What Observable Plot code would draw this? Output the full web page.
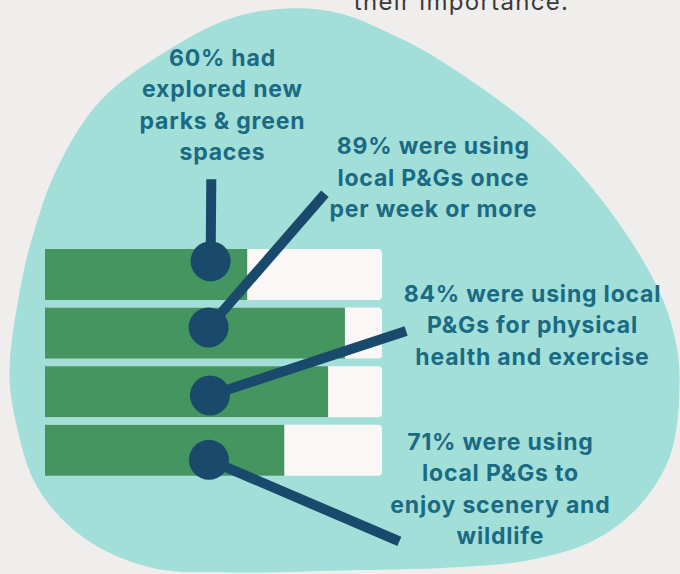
<!DOCTYPE html>
<html>
<head>
<meta charset="utf-8">
<script src="https://cdn.jsdelivr.net/npm/d3@7"></script>
<script src="https://cdn.jsdelivr.net/npm/@observablehq/plot@0.6"></script>
<style>
  html, body { margin: 0; padding: 0; background: #efeeec; }
  #wrap { position: relative; width: 680px; height: 574px; overflow: hidden; }
  #wrap svg { position: absolute; left: 0; top: 0; background: transparent; overflow: visible; }
</style>
</head>
<body>
<div id="wrap"></div>
<script>
// ---- data ----
const labels = [
  "60% had\nexplored new\nparks & green\nspaces",
  "89% were using\nlocal P&Gs once\nper week or more",
  "84% were using local\nP&Gs for physical\nhealth and exercise",
  "71% were using\nlocal P&Gs to\nenjoy scenery and\nwildlife"
];
const values = [60, 89, 84, 71];
const maxValue = 100;

// annotation anchors (x in %, y in bar-row units)
const dotX = [49.0, 48.4, 48.8, 48.5];
const dotY = [0.20, 1.33, 2.49, 3.59];
const endX = [49.2, 82.9, 107.0, 105.0];
const endY = [-1.20, -0.95, 1.39, 4.98];
const labelX = [52.5, 115.1, 144.5, 135.0];
const labelY = [-2.50, -1.26, 1.26, 4.05];

// decorative blob outline (page pixels)
const blobX = [287, 340, 400, 440, 540, 607, 657, 675, 679, 670, 640, 593, 527, 450, 340, 233, 150, 83, 37, 15, 9, 20, 33, 57, 100, 167, 230];
const blobY = [8, 13, 38, 60, 133, 207, 287, 340, 387, 454, 504, 540, 560, 567, 570, 572, 567, 537, 487, 420, 370, 287, 233, 167, 100, 50, 18];
const headerText = ["their importance."];

// ---- tables ----
const rows = values.map((v, i) => ({row: i, value: v, label: labels[i]}));
const annots = labels.map((l, i) => ({
  label: l, dotX: dotX[i], dotY: dotY[i], endX: endX[i], endY: endY[i], labelX: labelX[i], labelY: labelY[i]
}));
const blob = blobX.map((x, i) => ({x, y: blobY[i]}));

const barH = 0.87;
const green = "#449560", track = "#faf7f6", navy = "#194a6b", ink = "#1b6a84";

const bg = Plot.plot({
  width: 680, height: 574,
  marginTop: 0, marginRight: 0, marginBottom: 0, marginLeft: 0,
  x: {type: "identity", axis: null}, y: {type: "identity", axis: null},
  style: {letterSpacing: "1.3px", background: "transparent"},
  marks: [
    Plot.line(blob, {x: "x", y: "y", curve: "catmull-rom-closed", fill: "#a2dfd8", stroke: "none"}),
    Plot.text(headerText, {x: 461, y: 9, text: d => d, fontSize: 24, fontFamily: "Inter", fill: "#3a3a3a", lineAnchor: "bottom"})
  ]
});

const main = Plot.plot({
  width: 680, height: 574,
  marginTop: 0, marginRight: 0, marginBottom: 0, marginLeft: 0,
  style: {letterSpacing: "0.8px", background: "transparent"},
  x: {domain: [0, maxValue], range: [45, 382], axis: null},
  y: {domain: [0, 4], range: [249, 483.4], axis: null},
  marks: [
    Plot.rect(rows, {x1: 0, x2: maxValue, y1: "row", y2: d => d.row + barH, fill: track, rx: 4}),
    Plot.rect(rows, {x1: 0, x2: "value", y1: "row", y2: d => d.row + barH, fill: green}),
    Plot.link(annots, {x1: "dotX", y1: "dotY", x2: "endX", y2: "endY", stroke: navy, strokeWidth: 10, strokeLinecap: "butt"}),
    Plot.dot(annots, {x: "dotX", y: "dotY", r: 20, fill: navy}),
    Plot.text(annots, {x: "labelX", y: "labelY", text: "label", fill: ink, fontSize: 23, fontWeight: 700,
      fontFamily: "Inter", lineHeight: 1.37, lineAnchor: "middle", textAnchor: "middle"})
  ]
});

document.getElementById("wrap").append(bg, main);
</script>
</body>
</html>
